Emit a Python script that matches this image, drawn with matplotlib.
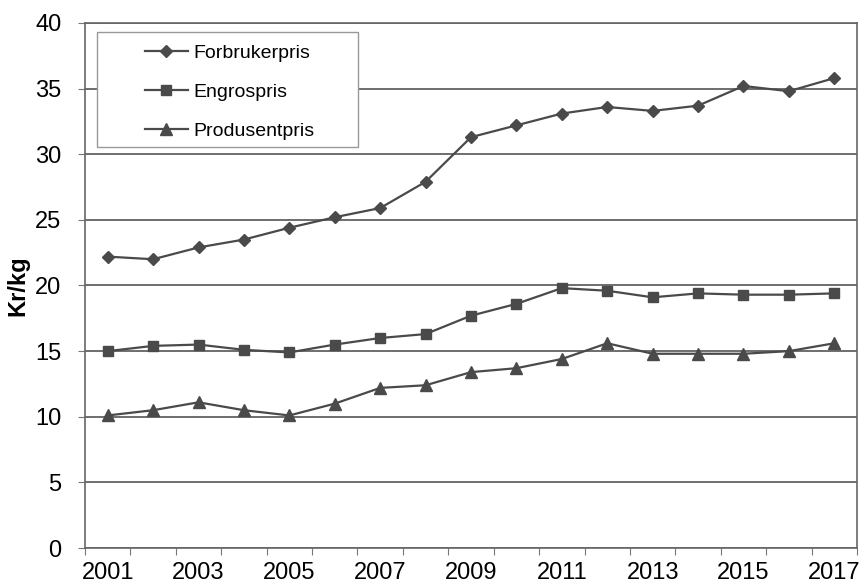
import matplotlib.pyplot as plt
from matplotlib.patches import Rectangle

years = list(range(2001, 2018))
forbrukerpris = [22.2, 22.0, 22.9, 23.5, 24.4, 25.2, 25.9, 27.9, 31.3, 32.2, 33.1, 33.6, 33.3, 33.7, 35.2, 34.8, 35.8]
engrospris = [15.0, 15.4, 15.5, 15.1, 14.9, 15.5, 16.0, 16.3, 17.7, 18.6, 19.8, 19.6, 19.1, 19.4, 19.3, 19.3, 19.4]
produsentpris = [10.1, 10.5, 11.1, 10.5, 10.1, 11.0, 12.2, 12.4, 13.4, 13.7, 14.4, 15.6, 14.8, 14.8, 14.8, 15.0, 15.6]

plt.rcParams['font.family'] = ['Liberation Sans', 'DejaVu Sans']

fig = plt.figure(figsize=(8.62, 5.86), dpi=100)
ax = fig.add_axes([0.0986, 0.0648, 0.8956, 0.896])

c = '#4a4a4a'
x = list(range(len(years)))
ax.plot(x, forbrukerpris, color=c, lw=1.6, marker='D', ms=6.5, label='Forbrukerpris')
ax.plot(x, engrospris, color=c, lw=1.6, marker='s', ms=7.5, label='Engrospris')
ax.plot(x, produsentpris, color=c, lw=1.6, marker='^', ms=8.5, label='Produsentpris')

ax.set_xlim(-0.5, len(years) - 0.5)
ax.set_ylim(0, 40)
ax.set_yticks(range(0, 41, 5))
ax.yaxis.grid(True, color='#555555', lw=1.2)
ax.set_axisbelow(True)

# ticks between categories, labels on every other year
ax.set_xticks([i - 0.5 for i in range(len(years) + 1)])
ax.set_xticklabels([])
ax.set_xticks(x[::2], minor=True)
ax.set_xticklabels([str(y) for y in years[::2]], minor=True)
ax.tick_params(axis='x', which='minor', length=0, labelsize=17, pad=10)
ax.tick_params(axis='x', which='major', length=5, color='#777777')
ax.tick_params(axis='y', length=5, color='#777777', labelsize=17, pad=12)

for s in ax.spines.values():
    s.set_color('#666666')
    s.set_linewidth(1.2)

ax.set_ylabel('Kr/kg', fontsize=17, fontweight='bold', labelpad=4)

# legend box drawn separately so it can be wider than the entries
box = Rectangle((97 / 862, 1 - 147 / 586), 261 / 862, 115 / 586, transform=fig.transFigure,
                facecolor='white', edgecolor='#999999', lw=1.0, zorder=4, clip_on=False)
ax.add_patch(box)
leg = ax.legend(loc='upper left', bbox_to_anchor=(145 / 862, 1 - 44 / 586),
                bbox_transform=fig.transFigure, fontsize=14, frameon=False,
                borderpad=0, borderaxespad=0, labelspacing=1.1,
                handlelength=2.2, handletextpad=0.3)
leg.set_zorder(5)

fig.savefig('out.png', dpi=100)
